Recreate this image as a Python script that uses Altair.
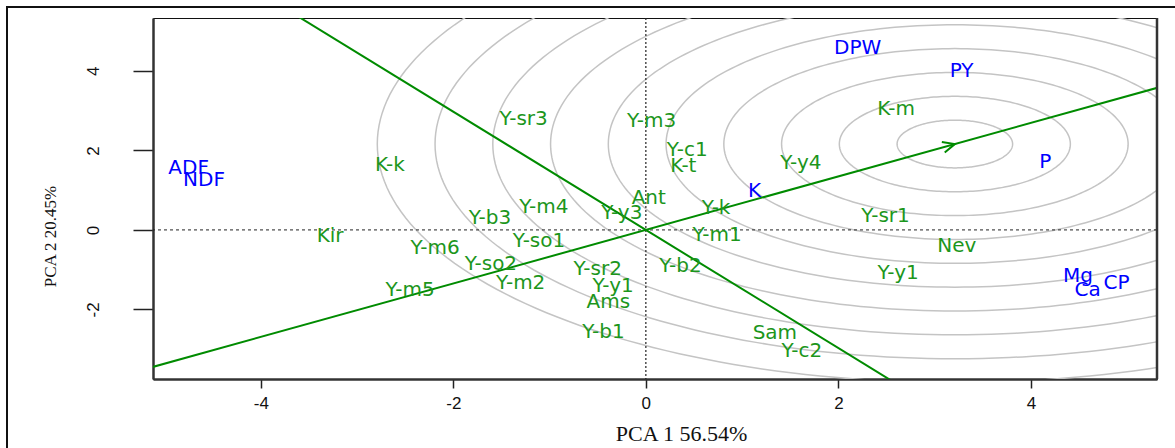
import numpy as np
import pandas as pd
import altair as alt

# ---- data ----
gen_labels = ["K-k", "Y-sr3", "Y-m3", "Y-c1", "K-t", "Y-y4", "K-m", "Ant", "Y-m4",
              "Y-y3", "Y-k", "Y-b3", "Y-m1", "Y-so1", "Y-m6", "Kir", "Y-so2", "Y-sr2",
              "Y-b2", "Y-m5", "Y-m2", "Y-y1", "Ams", "Y-b1", "Sam", "Y-c2", "Y-sr1",
              "Nev", "Y-y1"]
gen_x = [-2.66, -1.27, 0.06, 0.43, 0.39, 1.61, 2.60, 0.03, -1.06,
         -0.25, 0.73, -1.62, 0.74, -1.11, -2.19, -3.28, -1.61, -0.50,
         0.36, -2.45, -1.30, -0.34, -0.39, -0.44, 1.34, 1.62, 2.49,
         3.23, 2.62]
gen_y = [1.64, 2.79, 2.74, 2.01, 1.61, 1.69, 3.04, 0.80, 0.58,
         0.43, 0.55, 0.30, -0.13, -0.28, -0.46, -0.15, -0.86, -0.98,
         -0.90, -1.51, -1.34, -1.41, -1.81, -2.56, -2.59, -3.04, 0.34,
         -0.40, -1.09]

trait_labels = ["ADF", "NDF", "DPW", "PY", "P", "K", "Mg", "CP", "Ca"]
trait_x = [-4.75, -4.59, 2.20, 3.28, 4.15, 1.13, 4.49, 4.89, 4.59]
trait_y = [1.56, 1.26, 4.58, 4.00, 1.71, 0.98, -1.16, -1.33, -1.51]

ideal_x = [3.21]
ideal_y = [2.16]
ring_radii = [0.6, 1.2, 1.8, 2.4, 3.0, 3.6, 4.2, 4.8, 5.4, 6.0]

x_ticks = [-4, -2, 0, 2, 4]
y_ticks = [-2, 0, 2, 4]
x_domain = [-5.12, 5.31]
y_domain = [-3.75, 5.33]

GREEN_LINE = "#008B00"
GREEN_TEXT = "#1c961c"
BLUE = "#0000FF"

W, H = 1004, 361

# ---- tables ----
gen_df = pd.DataFrame({"x": gen_x, "y": gen_y, "label": gen_labels})
trait_df = pd.DataFrame({"x": trait_x, "y": trait_y, "label": trait_labels})

theta = np.linspace(0, 2 * np.pi, 241)
ring_rows = []
for k, r in enumerate(ring_radii):
    for i, t in enumerate(theta):
        ring_rows.append({"ring": k, "i": i,
                          "x": ideal_x[0] + r * np.cos(t),
                          "y": ideal_y[0] + r * np.sin(t)})
ring_df = pd.DataFrame(ring_rows)

dx, dy = ideal_x[0], ideal_y[0]
lines_df = pd.DataFrame({
    "x": [-3 * dx, 3 * dy],
    "y": [-3 * dy, -3 * dx],
    "x2": [3 * dx, -3 * dy],
    "y2": [3 * dy, 3 * dx],
})
ideal_df = pd.DataFrame({"x": ideal_x, "y": ideal_y})

xs = alt.Scale(domain=x_domain, nice=False, zero=False)
ys = alt.Scale(domain=y_domain, nice=False, zero=False)

x_axis = alt.Axis(values=x_ticks, labelExpr="'' + datum.value", grid=False,
                  domain=True, domainColor="#333333",
                  domainWidth=2.5, ticks=True, tickSize=9, tickWidth=1.5,
                  tickColor="#222222", labelFont="Liberation Sans", labelFontSize=17,
                  labelColor="#111111", labelPadding=7, labelFlush=False,
                  title="PCA 1 56.54%", titleFont="Liberation Serif",
                  titleFontSize=22, titleFontWeight="normal", titleColor="#111111",
                  titleX=528, titleY=54, titleAlign="center", titleBaseline="middle")
y_axis = alt.Axis(values=y_ticks, labelExpr="'' + datum.value", grid=False,
                  domain=True, domainColor="#333333",
                  domainWidth=2.5, ticks=True, tickSize=20, tickWidth=1.5,
                  tickColor="#222222", labelFont="Liberation Sans", labelFontSize=17,
                  labelColor="#111111", labelAngle=270, labelAlign="center",
                  labelBaseline="middle", labelPadding=40, labelFlush=False,
                  title="PCA 2 20.45%", titleFont="Liberation Serif",
                  titleFontSize=17, titleFontWeight="normal", titleColor="#111111",
                  titleX=-103, titleY=218, titleAngle=270, titleAlign="center",
                  titleBaseline="middle")

rings = alt.Chart(ring_df).mark_line(color="#C4C4C4", strokeWidth=1.5, clip=True).encode(
    x=alt.X("x:Q", scale=xs, axis=x_axis),
    y=alt.Y("y:Q", scale=ys, axis=y_axis),
    detail="ring:N",
    order="i:Q",
)

hzero = alt.Chart(pd.DataFrame({"y": [0]})).mark_rule(
    color="#222222", strokeDash=[3, 3], strokeWidth=1).encode(y=alt.Y("y:Q", scale=ys))
vzero = alt.Chart(pd.DataFrame({"x": [0]})).mark_rule(
    color="#222222", strokeDash=[2, 2], strokeWidth=1.2).encode(x=alt.X("x:Q", scale=xs))

green_lines = alt.Chart(lines_df).mark_rule(color=GREEN_LINE, strokeWidth=2, clip=True).encode(
    x=alt.X("x:Q", scale=xs), y=alt.Y("y:Q", scale=ys), x2="x2:Q", y2="y2:Q")

arrow = alt.Chart(ideal_df).mark_point(
    shape="M -1 -0.45 L 0 0 L -1 0.45", filled=False, size=576, angle=344.5,
    color=GREEN_LINE, strokeWidth=2, opacity=1).encode(
    x=alt.X("x:Q", scale=xs), y=alt.Y("y:Q", scale=ys))

gen_text = alt.Chart(gen_df).mark_text(
    font="DejaVu Sans", fontSize=20, color=GREEN_TEXT, align="center",
    baseline="middle").encode(
    x=alt.X("x:Q", scale=xs), y=alt.Y("y:Q", scale=ys), text="label:N")

trait_text = alt.Chart(trait_df).mark_text(
    font="DejaVu Sans", fontSize=20, color=BLUE, align="center",
    baseline="middle").encode(
    x=alt.X("x:Q", scale=xs), y=alt.Y("y:Q", scale=ys), text="label:N")

right_border = alt.Chart(pd.DataFrame({"a": [0]})).mark_rule(
    color="#333333", strokeWidth=2.5).encode(
    x=alt.value(W), y=alt.value(0), y2=alt.value(H))

frame_left = alt.Chart(pd.DataFrame({"a": [0]})).mark_rule(
    color="#111111", strokeWidth=2).encode(
    x=alt.value(-146), y=alt.value(-11), y2=alt.value(440))
frame_top = alt.Chart(pd.DataFrame({"a": [0]})).mark_rule(
    color="#111111", strokeWidth=2).encode(
    x=alt.value(-147), x2=alt.value(1040), y=alt.value(-11))

chart = alt.layer(
    rings, hzero, vzero, green_lines, arrow, gen_text, trait_text,
    right_border, frame_left, frame_top,
).properties(
    width=W, height=H,
    autosize=alt.AutoSizeParams(type="none"),
    padding={"left": 153, "top": 18, "right": 18, "bottom": 69},
).configure_view(stroke="#111111", strokeWidth=1)

chart.save("out.html", embed_options={"renderer": "svg", "actions": False})
